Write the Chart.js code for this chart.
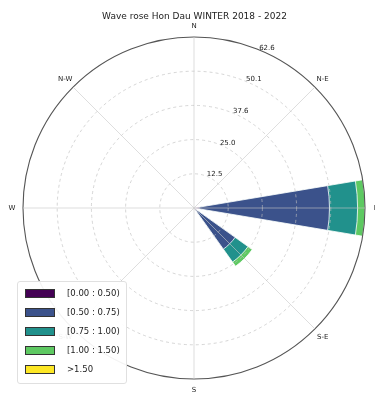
<!DOCTYPE html>
<html>
<head>
<meta charset="utf-8">
<script src="https://cdn.jsdelivr.net/npm/chart.js@4/dist/chart.umd.min.js"></script>
<style>
  html, body { margin: 0; padding: 0; background: #fff; overflow: hidden; }
  #wrap { position: relative; width: 375px; height: 396px; }
  #legend {
    position: absolute; left: 17px; top: 281px; width: 110px; height: 103px;
    background: rgba(255,255,255,0.93); border: 1px solid #e0e0e0; border-radius: 3px;
    box-sizing: border-box; font-family: 'DejaVu Sans', sans-serif; font-size: 8.5px; color: #222;
  }
  .row { position: absolute; left: 7px; height: 10px; }
  .sw { position: absolute; left: 0; top: 0; width: 30px; height: 9px; box-sizing: border-box; border: 1px solid #333; }
  .tx { position: absolute; left: 42px; top: -1px; white-space: nowrap; line-height: 11px; }
</style>
</head>
<body>
<div id="wrap">
  <canvas id="c" width="375" height="396"></canvas>
  <div id="legend"></div>
</div>
<script>
// ---- data ----
const directions = ['N','NNE','NE','ENE','E','ESE','SE','SSE','S','SSW','SW','WSW','W','WNW','NW','NNW'];
const compassLabels = ['N','N-E','E','S-E','S','S-W','W','N-W'];
const binLabels = ['[0.00 : 0.50)','[0.50 : 0.75)','[0.75 : 1.00)','[1.00 : 1.50)','>1.50'];
const binColors = ['#440154','#3b528b','#21918c','#5ec962','#fde725'];
//            N  NNE NE ENE  E    ESE  SE   SSE S SSW SW WSW W WNW NW NNW
const bin0 = [0, 0,  0, 0,  1.8,  0,  1.0,  0, 0, 0,  0, 0,  0, 0,  0, 0];
const bin1 = [0, 0,  0, 0, 47.8,  0, 17.5,  0, 0, 0,  0, 0,  0, 0,  0, 0];
const bin2 = [0, 0,  0, 0, 10.3,  0,  5.8,  0, 0, 0,  0, 0,  0, 0,  0, 0];
const bin3 = [0, 0,  0, 0,  2.7,  0,  1.9,  0, 0, 0,  0, 0,  0, 0,  0, 0];
const bin4 = [0, 0,  0, 0,  0,    0,  0,    0, 0, 0,  0, 0,  0, 0,  0, 0];
const tickValues = [0, 12.52, 25.04, 37.56, 50.08, 62.6];
const tickLabels = ['', '12.5', '25.0', '37.6', '50.1', '62.6'];
const chartTitle = 'Wave rose Hon Dau WINTER 2018 - 2022';

// ---- geometry of sectors (degrees) ----
const SECTOR = 360 / directions.length;
const BAR = 19;
const GAP = SECTOR - BAR;
const angles = [BAR / 2];
for (let i = 1; i < directions.length; i++) { angles.push(GAP, BAR); }
angles.push(GAP, BAR / 2);

function toSequence(vals) {
  const out = [vals[0]];
  for (let i = 1; i < vals.length; i++) { out.push(0, vals[i]); }
  out.push(0, vals[0]);
  return out;
}

const bins = [bin0, bin1, bin2, bin3, bin4];
const cumulative = [];
bins.forEach((b, k) => {
  cumulative.push(b.map((v, i) => (k ? cumulative[k - 1][i] : 0) + v));
});

const datasets = bins.map((b, k) => ({
  label: binLabels[k],
  data: toSequence(cumulative[k].map((c, i) => (b[i] > 0 ? c : 0))),
  backgroundColor: binColors[k],
  borderColor: '#ffffff',
  borderWidth: c => (c.raw > 0 ? 0.8 : 0),
  angle: c => angles[c.dataIndex]
}));

const last = tickValues.length - 1;
let gridOnTop = false; // grid is drawn only once, above the bars

const labelsPlugin = {
  id: 'roseLabels',
  afterDatasetsDraw(chart) {
    const s = chart.scales.r;
    gridOnTop = true;
    s.ctx.save();
    s.drawGrid(chart.chartArea);
    s.ctx.restore();
    gridOnTop = false;
  },
  afterDraw(chart) {
    const s = chart.scales.r;
    const ctx = chart.ctx;
    ctx.save();
    ctx.fillStyle = '#222';
    ctx.textAlign = 'center';
    ctx.textBaseline = 'middle';
    ctx.font = '7px "DejaVu Sans"';
    compassLabels.forEach((lab, i) => {
      const p = s.getPointPosition(i, s.drawingArea + 11);
      ctx.fillText(lab, p.x, p.y);
    });
    const a = 22.5 * Math.PI / 180;
    tickValues.forEach((v, i) => {
      if (!tickLabels[i]) return;
      const d = s.getDistanceFromCenterForValue(v);
      ctx.fillText(tickLabels[i], s.xCenter + d * Math.sin(a) + 7.5, s.yCenter - d * Math.cos(a) - 2);
    });
    ctx.restore();
  }
};

Chart.defaults.font.family = '"DejaVu Sans", sans-serif';

new Chart(document.getElementById('c'), {
  type: 'polarArea',
  data: { labels: compassLabels, datasets },
  options: {
    responsive: false,
    animation: false,
    events: [],
    layout: { padding: { left: 23, right: 9, top: 0, bottom: 16 } },
    plugins: {
      legend: { display: false },
      tooltip: { enabled: false },
      title: {
        display: true, text: chartTitle, color: '#222',
        font: { size: 9, weight: 'normal' },
        padding: { top: 11, bottom: 16 }
      }
    },
    scales: {
      r: {
        min: 0, max: 62.6, startAngle: 0,
        afterBuildTicks: s => { s.ticks = tickValues.map(v => ({ value: v })); },
        ticks: { display: false },
        pointLabels: { display: false },
        angleLines: {
          display: true, lineWidth: 0.8,
          color: () => (gridOnTop ? 'rgba(200,200,200,0.75)' : 'rgba(0,0,0,0)')
        },
        grid: {
          circular: true,
          color: c => (!gridOnTop ? 'rgba(0,0,0,0)' : (c.index === last ? '#555' : 'rgba(190,190,190,0.8)')),
          lineWidth: c => (c.index === last ? 1.1 : 0.8)
        },
        border: { dash: c => (c.index === last ? [] : [3, 3]) }
      }
    }
  },
  plugins: [labelsPlugin]
});

// ---- legend (HTML) ----
const legend = document.getElementById('legend');
binLabels.forEach((lab, k) => {
  const row = document.createElement('div');
  row.className = 'row';
  row.style.top = (7 + k * 19.1) + 'px';
  row.innerHTML = '<div class="sw" style="background:' + binColors[k] + '"></div><div class="tx">' + lab + '</div>';
  legend.appendChild(row);
});
</script>
</body>
</html>
